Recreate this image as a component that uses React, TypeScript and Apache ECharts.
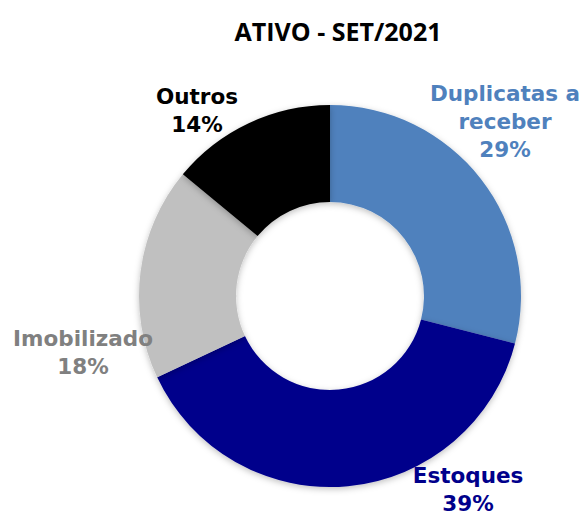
import React, { useEffect, useRef } from "react";
import * as echarts from "echarts";

const title = "ATIVO - SET/2021";
const categories = ["Duplicatas a\nreceber", "Estoques", "Imobilizado", "Outros"];
const values = [29, 39, 18, 14];
const sliceColors = ["#4F81BD", "#00008B", "#C0C0C0", "#000000"];
const labelColors = ["#4F81BD", "#00008B", "#808080", "#000000"];
const labelCenters: [number, number][] = [
  [505, 121],
  [468, 489],
  [83, 352],
  [197, 110],
];

export default function App() {
  const ref = useRef<HTMLDivElement>(null);
  useEffect(() => {
    if (!ref.current) return;
    const chart = echarts.init(ref.current, undefined, { renderer: "svg" });
    chart.setOption({
      animation: false,
      backgroundColor: "#ffffff",
      title: {
        text: title,
        left: 333,
        top: 13,
        textAlign: "center",
        textStyle: {
          fontFamily: "Open Sans",
          fontWeight: "bold",
          fontSize: 25,
          color: "#000000",
        },
      },
      series: [
        {
          type: "pie",
          center: [330, 296],
          radius: [94, 191],
          startAngle: 90,
          clockwise: true,
          avoidLabelOverlap: false,
          silent: true,
          data: categories.map((name, i) => ({
            name,
            value: values[i],
            itemStyle: {
              color: sliceColors[i],
              shadowBlur: 6,
              shadowColor: "rgba(0,0,0,0.25)",
              shadowOffsetY: 2,
            },
            label: { color: labelColors[i] },
          })),
          label: {
            show: true,
            position: "outside",
            formatter: (p: any) => `${p.name}\n${p.value}%`,
            fontFamily: "DejaVu Sans",
            fontWeight: "bold",
            fontSize: 21.5,
            lineHeight: 28,
            align: "center",
            verticalAlign: "middle",
          },
          labelLine: { show: false },
          labelLayout: (params: any) => {
            const c = labelCenters[params.dataIndex];
            return { x: c[0], y: c[1], align: "center", verticalAlign: "middle" };
          },
        },
      ],
    });
    return () => chart.dispose();
  }, []);
  return (
    <div
      ref={ref}
      style={{ position: "fixed", left: 0, top: 0, width: 580, height: 514 }}
    />
  );
}
